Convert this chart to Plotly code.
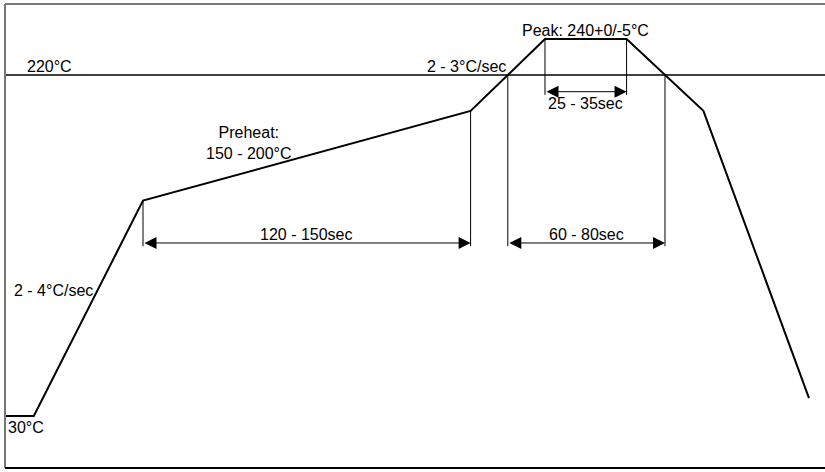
import plotly.graph_objects as go

# Reflow profile: time (s) vs temperature (°C)
profile_time = [0, 12, 57.5, 194, 225, 259, 291, 335]
profile_temp = [30, 30, 150, 200, 240, 240, 200, 40]

liquidus_temp = 220
peak_temp = 240

# Time-window boundaries for the dimension lines
preheat_window = [57.5, 194]
liquidus_window = [209.5, 275]
peak_window = [225, 259]

temp_labels = ["220°C", "30°C"]
rate_labels = ["2 - 4°C/sec", "2 - 3°C/sec"]
window_labels = ["120 - 150sec", "60 - 80sec", "25 - 35sec"]
preheat_label = "Preheat:<br>150 - 200°C"
peak_label = "Peak: 240+0/-5°C"

FONT = dict(family="Liberation Sans, Arial, sans-serif", size=16, color="#000")


def temp_at(t):
    """Linear interpolation of the profile temperature at time t."""
    for i in range(len(profile_time) - 1):
        t0, t1 = profile_time[i], profile_time[i + 1]
        if t0 <= t <= t1:
            y0, y1 = profile_temp[i], profile_temp[i + 1]
            return y0 + (y1 - y0) * (t - t0) / (t1 - t0)
    return profile_temp[-1]


fig = go.Figure()

# Profile curve
fig.add_trace(go.Scatter(
    x=profile_time, y=profile_temp, mode="lines",
    line=dict(color="#000", width=2), hoverinfo="skip", showlegend=False,
))

shapes = []
annotations = []

# Liquidus reference line
shapes.append(dict(type="line", xref="paper", x0=0, x1=1, yref="y",
                   y0=liquidus_temp, y1=liquidus_temp,
                   line=dict(color="#000", width=1.5)))

# Frame: grey top/left, black bottom
shapes.append(dict(type="line", xref="paper", yref="paper", x0=0, x1=1, y0=1, y1=1,
                   line=dict(color="#777", width=2)))
shapes.append(dict(type="line", xref="paper", yref="paper", x0=0, x1=0, y0=0, y1=1,
                   line=dict(color="#777", width=2)))
shapes.append(dict(type="line", xref="paper", yref="paper", x0=0, x1=1, y0=0, y1=0,
                   line=dict(color="#000", width=2)))


def dimension(window, top_temps, line_temp, tick_temp, label, label_temp):
    a, b = window
    for t, top in zip(window, top_temps):
        shapes.append(dict(type="line", xref="x", yref="y", x0=t, x1=t,
                           y0=top, y1=tick_temp,
                           line=dict(color="#000", width=1)))
    annotations.append(dict(
        x=b, y=line_temp, ax=a, ay=line_temp, xref="x", yref="y",
        axref="x", ayref="y", text="", showarrow=True,
        arrowhead=2, arrowside="end+start", arrowsize=2.4, arrowwidth=1,
        arrowcolor="#000", standoff=0, startstandoff=0,
    ))
    annotations.append(dict(x=(a + b) / 2, y=label_temp, xref="x", yref="y",
                            text=label, showarrow=False, font=FONT,
                            xanchor="center", yanchor="middle"))


dimension(preheat_window, [temp_at(t) for t in preheat_window],
          126.4, 124.6, window_labels[0], 131.0)
dimension(liquidus_window, [liquidus_temp, liquidus_temp],
          126.4, 124.6, window_labels[1], 131.4)
dimension(peak_window, [peak_temp, peak_temp],
          210.7, 208.9, window_labels[2], 204.4)

# Text labels
annotations += [
    dict(x=8.3, y=225, text=temp_labels[0], xanchor="left"),
    dict(x=0.6, y=23.5, text=temp_labels[1], xanchor="left"),
    dict(x=3.0, y=100.2, text=rate_labels[0], xanchor="left"),
    dict(x=209.4, y=225, text=rate_labels[1], xanchor="right"),
    dict(x=101.5, y=182, text=preheat_label, xanchor="center"),
    dict(x=(peak_window[0] + peak_window[1]) / 2, y=245, text=peak_label,
         xanchor="center"),
]
for ann in annotations[-6:]:
    ann.update(xref="x", yref="y", showarrow=False, font=FONT, yanchor="middle")

fig.update_layout(
    width=825, height=472,
    margin=dict(l=5, r=0, t=4, b=4),
    paper_bgcolor="#fff", plot_bgcolor="#fff",
    xaxis=dict(range=[0, 341.67], visible=False, fixedrange=True),
    yaxis=dict(range=[1.02, 259.56], visible=False, fixedrange=True),
    shapes=shapes, annotations=annotations, showlegend=False,
)

fig.write_html("out.html")
